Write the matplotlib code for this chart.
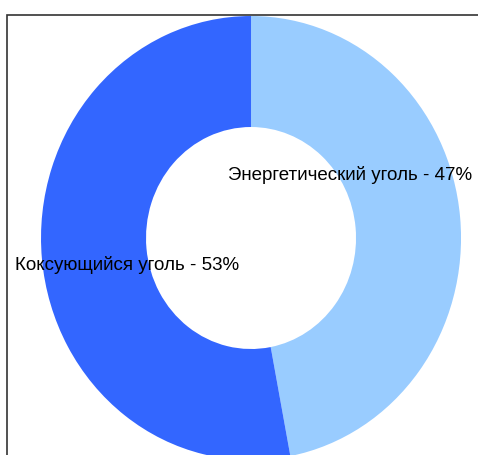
import matplotlib
matplotlib.use("Agg")
import matplotlib.pyplot as plt
from matplotlib.patches import Rectangle

labels = ["Энергетический уголь", "Коксующийся уголь"]
shares = [47, 53]
colors = ["#99CCFF", "#3366FF"]

plt.rcParams["font.family"] = ["Liberation Sans", "DejaVu Sans"]

fig = plt.figure(figsize=(4.78, 4.55), dpi=100)
# the original ring is slightly taller than wide
ax = fig.add_axes([0.0858, -0.011, 0.8787, 0.9758])
ax.pie(shares, colors=colors, startangle=90, counterclock=False,
       radius=1.0, wedgeprops=dict(width=0.5, edgecolor="none"))
ax.set_aspect("auto")
ax.set_xlim(-1, 1)
ax.set_ylim(-1, 1)
ax.axis("off")

# labels placed where the original chart puts them
label_pos = [(0.477, 0.615), (0.031, 0.418)]
for (x, y), lab, s in zip(label_pos, labels, shares):
    fig.text(x, y, f"{lab} - {s}%", ha="left", va="center",
             fontsize=13.5, color="black")

# plot-area frame (only top and left are visible)
fig.add_artist(Rectangle((0.0146, -0.2), 1.2, 1.167, fill=False,
                         edgecolor="#333333", lw=1.2,
                         transform=fig.transFigure))

fig.savefig("out.png", dpi=100)
